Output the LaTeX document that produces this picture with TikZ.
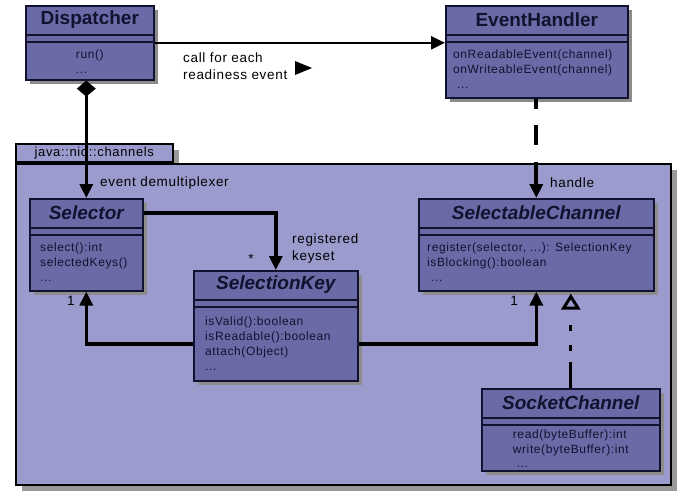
\documentclass[tikz,border=0pt]{standalone}
\usepackage{fontspec}
\setmainfont{Liberation Sans}
\newfontfamily\opsfont[LetterSpace=5]{Liberation Sans}
\usetikzlibrary{arrows.meta, shadows}
\definecolor{pkgfill}{RGB}{155,155,206}
\definecolor{classfill}{RGB}{106,106,166}
\definecolor{ink}{RGB}{18,18,48}
\tikzset{
	classbox/.style={draw=ink, fill=classfill, line width=1.6pt, inner sep=0pt,
		drop shadow={shadow xshift=4pt, shadow yshift=-4pt, fill=black!45, opacity=1}},
	pkgbox/.style={draw=black, fill=pkgfill, line width=1.6pt, inner sep=0pt,
		drop shadow={shadow xshift=6pt, shadow yshift=-6pt, fill=black!40, opacity=1}},
	classtitle/.style={font=\fontsize{19}{21}\selectfont\bfseries, text=ink, inner sep=0pt},
	abstract/.style={font=\fontsize{19}{21}\selectfont\bfseries\itshape},
	classops/.style={font=\fontsize{12}{15}\selectfont\opsfont, text=ink, inner sep=0pt, align=left},
	remark/.style={font=\fontsize{13.5}{17}\selectfont\opsfont, text=black, inner sep=0pt, align=left},
	assoc/.style={line width=3.4pt, draw=black},
	headed/.style={-{Triangle[length=14pt,width=13pt]}},
}
\newcommand{\classBox}[7][]{
	\path (#2,#3) node[classbox, anchor=north west, minimum width=#4pt, minimum height=#5pt](#6){};
	\draw[draw=ink, line width=1.6pt] ([yshift=-30pt]#6.north west) -- ([yshift=-30pt]#6.north east);
	\draw[draw=ink, line width=1.6pt] ([yshift=-37pt]#6.north west) -- ([yshift=-37pt]#6.north east);
	\path ([yshift=-15pt]#6.north) node[classtitle, #1](#6-title){#7};
}
\newcommand{\classOps}[4][]{
	\path ([yshift=-45pt]#2.#3) node[classops, anchor=#3, #1](#2-ops){#4};
}

\begin{document}
\begin{tikzpicture}[x=1pt, y=-1pt]
	\useasboundingbox[fill=white] (0,0) rectangle (688,501);

	% package
	\path (15,163) node[pkgbox, anchor=south west, minimum width=157pt, minimum height=18pt,
		font=\fontsize{13}{15}\selectfont\opsfont](pkg-tab){java::nio::channels};
	\path (15,163) node[pkgbox, anchor=north west, minimum width=655pt, minimum height=321pt](pkg){};

	% classes
	\classBox{25}{5}{128}{74}{dsp}{Dispatcher}
	\classOps{dsp}{north}{run()\\...}
	\classBox{445}{5}{182}{92}{evh}{EventHandler}
	\classOps[xshift=8pt]{evh}{north west}{onReadableEvent(channel)\\onWriteableEvent(channel)\\\ ...}
	\classBox[abstract]{29}{198}{113}{92}{sel}{Selector}
	\classOps[xshift=11pt]{sel}{north west}{select():int\\selectedKeys()\\...}
	\classBox[abstract]{193}{270}{164}{110}{key}{SelectionKey}
	\classOps[xshift=12pt, yshift=-2pt]{key}{north west}{isValid():boolean\\isReadable():boolean\\attach(Object)\\...}
	\classBox[abstract]{418}{198}{235}{92}{chn}{SelectableChannel}
	\classOps[xshift=9pt]{chn}{north west}{register(selector, ...): SelectionKey\\isBlocking():boolean\\\ ...}
	\classBox[abstract]{481}{388}{178}{82}{sck}{SocketChannel}
	\classOps[yshift=3pt, font=\fontsize{12}{14.5}\selectfont\opsfont]{sck}{north}{read(byteBuffer):int\\write(byteBuffer):int\\\ ...}

	% connectors
	\draw[assoc, line width=2.2pt, headed] (dsp.east) -- (dsp.east -| evh.west);
	\draw[assoc, {Diamond[length=16pt,width=19pt]}-{Triangle[length=14pt,width=13pt]}] (sel.north |- dsp.south) -- (sel.north);
	\draw[assoc, headed] (sel.east |- sel-title) -| (key.north);
	\draw[assoc, headed] ([yshift=-18pt]key.west) -| (sel.south);
	\draw[assoc, headed] ([yshift=-18pt]key.east) -| (chn.south);
	\draw[assoc, line width=4pt, dash pattern=on 10pt off 16pt on 20pt off 17pt on 60pt, headed] (chn.north |- evh.south) -- (chn.north);
	\draw[assoc, line width=3pt, dash pattern=on 26pt off 11pt on 6pt off 14pt on 6pt off 40pt,
		-{Triangle[open, length=16pt, width=19pt]}] (sck.north) -- ([yshift=-2pt]sck.north |- chn.south);

	% labels
	\node[remark, anchor=west] (call) at (183,66.5) {call for each\\readiness event};
	\fill (295,61) -- (312,68) -- (295,75) -- cycle;
	\node[remark, anchor=west] (demux) at (100,183) {event demultiplexer};
	\node[remark, anchor=west] (handle) at (550,183) {handle};
	\node[remark, anchor=west] (keyset) at (292,249) {registered\\keyset};
	\node[remark] (many) at (251,259) {*};
	\node[remark] (one-sel) at (71,301) {1};
	\node[remark] (one-chn) at (514,301) {1};
\end{tikzpicture}
\end{document}
